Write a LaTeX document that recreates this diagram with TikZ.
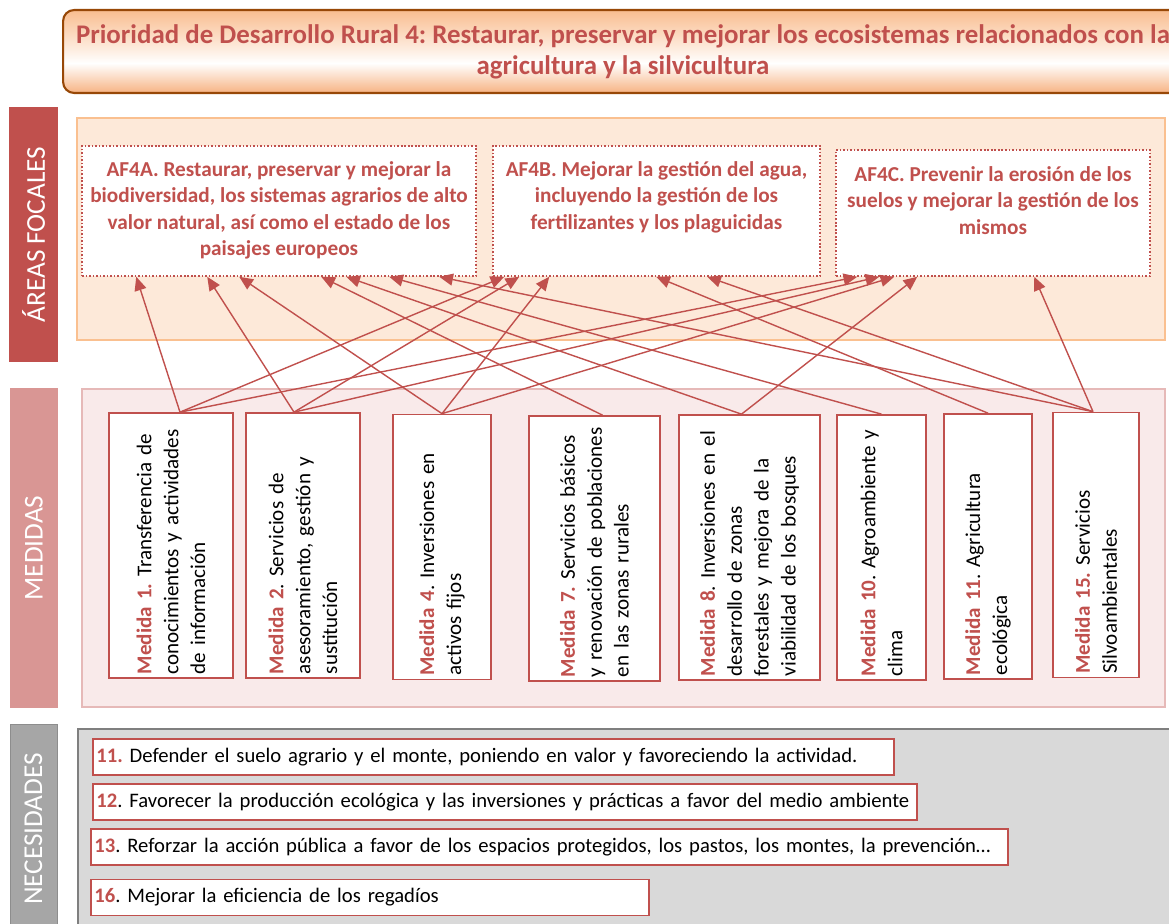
\documentclass[tikz,border=0pt]{standalone}
\usepackage{fontspec}
\setmainfont{Carlito}
\usetikzlibrary{calc,arrows.meta}
\frenchspacing
\definecolor{rojo}{HTML}{C0504D}
\definecolor{rojoclaro}{HTML}{D99694}
\definecolor{rosa}{HTML}{F9EAEA}
\definecolor{rosaborde}{HTML}{E6B9B8}
\definecolor{melocoton}{HTML}{FDE9D9}
\definecolor{naranja}{HTML}{F9BD8F}
\definecolor{naranjaborde}{HTML}{FAC090}
\definecolor{naranjatit}{HTML}{F7B383}
\definecolor{marron}{HTML}{984807}
\definecolor{gris}{HTML}{A6A6A6}
\definecolor{grisclaro}{HTML}{D9D9D9}
\definecolor{grisoscuro}{HTML}{7F7F7F}
\pgfdeclareverticalshading{degradado}{100bp}{color(0bp)=(naranjatit); color(25bp)=(naranjatit); color(43bp)=(white); color(52bp)=(naranja!30); color(75bp)=(naranja); color(100bp)=(naranja)}
\newcommand{\numrojo}[1]{\textcolor{rojo}{\textbf{#1}}}
\tikzset{
	titulo/.style={draw=marron, line width=1.2pt, rounded corners=0.22cm, shading=degradado, text=rojo, font=\bfseries\fontsize{15.3}{17.6}\selectfont, align=center, minimum width=22.4cm, minimum height=1.66cm},
	barra/.style={rotate=90, text=white, inner sep=0pt, font=\fontsize{15.5}{18}\selectfont},
	area/.style={draw=rojo, line width=0.9pt, dash pattern=on 0.9pt off 1.1pt, fill=white},
	areatexto/.style={anchor=north, inner sep=0pt, align=center, text=rojo, font=\bfseries\fontsize{12.1}{15}\selectfont},
	medida/.style={draw=rojo, line width=1pt, fill=white, rotate=90, text width=5.15cm, inner xsep=0.075cm, align=left, font=\fontsize{12}{15.3}\selectfont},
	necesidad/.style={draw=rojo, line width=1pt, fill=white, anchor=west, inner xsep=0.07cm, minimum height=0.72cm, align=left, font=\fontsize{11.75}{13.5}\selectfont},
	flecha/.style={rojo, line width=0.8pt, -{Triangle[length=7.8pt,width=6.8pt]}}
}
\begin{document}
\begin{tikzpicture}[x=0.02cm, y=-0.02cm]
	\useasboundingbox (0,0) rectangle (1169,923);
	\clip (0,0) rectangle (1169,923);
	\filldraw [fill=melocoton, draw=naranjaborde, line width=1pt] (77,118) rectangle (1165,340);
	\filldraw [fill=rosa, draw=rosaborde, line width=1pt] (82,389) rectangle (1165,707);
	\filldraw [fill=grisclaro, draw=grisoscuro, line width=1pt] (78,729) rectangle (1190,940);
	\node [barra, fill=rojo, minimum width=5.1cm, minimum height=0.98cm] (areas) at (33.5,234.5) {ÁREAS FOCALES};
	\node [barra, fill=rojoclaro, minimum width=6.4cm, minimum height=0.96cm] (medidas) at (34,548) {MEDIDAS};
	\node [barra, fill=gris, draw=gris!85!black, minimum width=4.2cm, minimum height=0.94cm] (necesidades) at (33.5,829) {NECESIDADES};
	\node [titulo] (prioridad) at (623,51.5) {Prioridad de Desarrollo Rural 4: Restaurar, preservar y mejorar los ecosistemas relacionados con la\\agricultura y la silvicultura};
	\node [area, minimum width=7.88cm, minimum height=2.6cm] (af4a) at (279,211) {};
	\node [area, minimum width=6.54cm, minimum height=2.6cm] (af4b) at (656.5,211) {};
	\node [area, minimum width=6.28cm, minimum height=2.52cm] (af4c) at (993,213) {};
	\node [areatexto] (txta) at ($(af4a.north)+(0,16)$) {AF4A. Restaurar, preservar y mejorar la\\biodiversidad, los sistemas agrarios de alto\\valor natural, así como el estado de los\\paisajes europeos};
	\node [areatexto] (txtb) at ($(af4b.north)+(0,16)$) {AF4B. Mejorar la gestión del agua,\\incluyendo la gestión de los\\fertilizantes y los plaguicidas};
	\node [areatexto] (txtc) at ($(af4c.north)+(0,17)$) {AF4C. Prevenir la erosión de los\\suelos y mejorar la gestión de los\\mismos};
	\node [medida, minimum height=2.48cm] (m1) at (171,545.5) {\numrojo{Medida 1.} Transferencia de\\conocimientos y actividades\\de información};
	\node [medida, minimum height=2.28cm] (m2) at (303,545.5) {\numrojo{Medida 2}. Servicios de\\asesoramiento, gestión y\\sustitución};
	\node [medida, minimum height=1.96cm] (m4) at (442,547) {\numrojo{Medida 4}. Inversiones en\\activos fijos};
	\node [medida, minimum height=2.62cm] (m7) at (594.5,548.5) {\numrojo{Medida 7.} Servicios básicos\\y renovación de poblaciones\\en las zonas rurales};
	\node [medida, minimum height=2.82cm] (m8) at (749.5,547.5) {\numrojo{Medida 8}. Inversiones en el\\desarrollo de zonas\\forestales y mejora de la\\viabilidad de los bosques};
	\node [medida, minimum height=1.78cm] (m10) at (881.5,547.5) {\numrojo{Medida 10}. Agroambiente y\\clima};
	\node [medida, minimum height=1.76cm] (m11) at (988,546.5) {\numrojo{Medida 11}. Agricultura\\ecológica};
	\node [medida, minimum height=1.72cm] (m15) at (1096,545) {\numrojo{Medida 15.} Servicios\\Silvoambientales};
	\draw [flecha] ($(m1.east)+(9,0)$) -- ($(af4a.south west)+(55,0)$);
	\draw [flecha] ($(m1.east)+(9,0)$) -- ($(af4b.south west)+(12,0)$);
	\draw [flecha] ($(m1.east)+(9,0)$) -- ($(af4c.south west)+(22,0)$);
	\draw [flecha] ($(m2.east)+(-9,0)$) -- ($(af4a.south west)+(126,0)$);
	\draw [flecha] ($(m2.east)+(-9,0)$) -- ($(af4b.south west)+(27,0)$);
	\draw [flecha] ($(m2.east)+(-9,0)$) -- ($(af4c.south west)+(44,0)$);
	\draw [flecha] (m4.east) -- ($(af4a.south west)+(158,0)$);
	\draw [flecha] (m4.east) -- ($(af4b.south west)+(57,0)$);
	\draw [flecha] (m4.east) -- ($(af4c.south west)+(59,0)$);
	\draw [flecha] ($(m7.east)+(8,0)$) -- ($(af4a.south west)+(240,0)$);
	\draw [flecha] ($(m8.east)+(-8,0)$) -- ($(af4a.south west)+(265,0)$);
	\draw [flecha] ($(m8.east)+(-8,0)$) -- ($(af4c.south west)+(82,0)$);
	\draw [flecha] (m10.east) -- ($(af4a.south west)+(308,0)$);
	\draw [flecha] (m11.east) -- ($(af4b.south west)+(164,0)$);
	\draw [flecha] ($(m15.east)+(-3,0)$) -- ($(af4a.south west)+(358,0)$);
	\draw [flecha] ($(m15.east)+(-3,0)$) -- ($(af4b.south west)+(215,0)$);
	\draw [flecha] ($(m15.east)+(-3,0)$) -- ($(af4c.south west)+(199,0)$);
	\node [necesidad, minimum width=16.02cm, text width=15.88cm] (n11) at (92,757) {\numrojo{11.} Defender el suelo agrario y el monte, poniendo en valor y favoreciendo la actividad.};
	\node [necesidad, minimum width=16.48cm, text width=16.34cm] (n12) at (92,802) {\numrojo{12}. Favorecer la producción ecológica y las inversiones y prácticas a favor del medio ambiente};
	\node [necesidad, minimum width=18.34cm, text width=18.2cm] (n13) at (90,847) {\numrojo{13}. Reforzar la acción pública a favor de los espacios protegidos, los pastos, los montes, la prevención…};
	\node [necesidad, minimum width=11.16cm, text width=11.02cm] (n16) at (90,897.5) {\numrojo{16}. Mejorar la eficiencia de los regadíos};
\end{tikzpicture}
\end{document}
